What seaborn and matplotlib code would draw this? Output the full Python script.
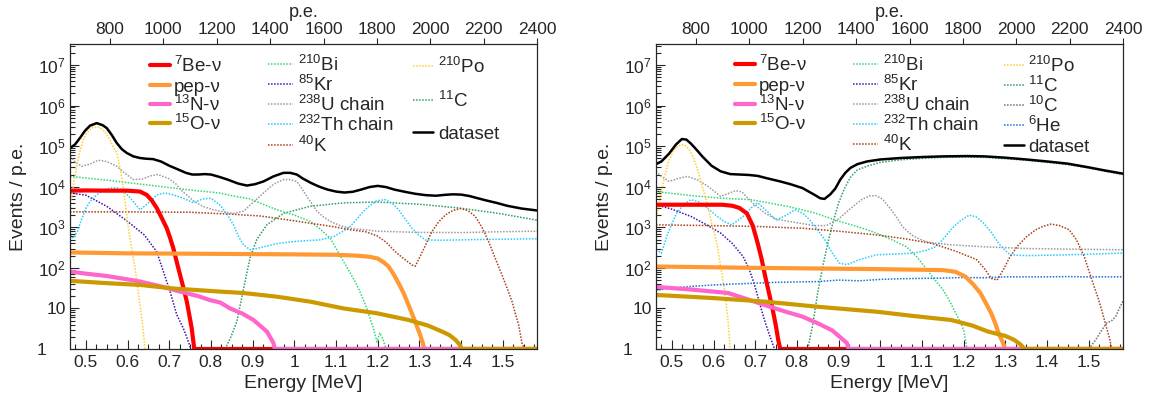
import numpy as np
import pandas as pd
import matplotlib
matplotlib.use("Agg")
import matplotlib.pyplot as plt
import seaborn as sns
from matplotlib.lines import Line2D
from matplotlib.ticker import FixedLocator, MultipleLocator, LogLocator, NullFormatter, FixedFormatter

# ---------------- data: left panel ----------------
L_data_E = [0.462, 0.474, 0.486, 0.498, 0.51, 0.526, 0.54, 0.55, 0.562, 0.574, 0.586, 0.598, 0.614, 0.63, 0.645, 0.661,
            0.68, 0.70, 0.72, 0.74, 0.755, 0.77, 0.785, 0.80, 0.82, 0.84, 0.865, 0.886, 0.905, 0.926, 0.95, 0.974,
            0.99, 1.006, 1.02, 1.04, 1.06, 1.08, 1.10, 1.12, 1.14, 1.16, 1.18, 1.20, 1.22, 1.24, 1.265, 1.29, 1.315,
            1.34, 1.36, 1.38, 1.40, 1.42, 1.44, 1.46, 1.485, 1.51, 1.545, 1.582]
L_data_v = [9.0e4, 1.1e5, 1.6e5, 2.4e5, 3.2e5, 3.7e5, 3.3e5, 2.8e5, 1.9e5, 1.2e5, 8.5e4, 6.8e4, 5.6e4, 5.1e4, 4.9e4, 4.8e4,
            4.2e4, 3.3e4, 2.7e4, 2.2e4, 2.0e4, 2.0e4, 2.05e4, 2.0e4, 1.75e4, 1.5e4, 1.2e4, 1.07e4, 1.15e4, 1.35e4, 1.8e4, 2.2e4,
            2.2e4, 2.0e4, 1.6e4, 1.24e4, 1.0e4, 8.5e3, 7.6e3, 7.2e3, 7.5e3, 8.5e3, 9.8e3, 1.05e4, 9.8e3, 8.5e3, 7.5e3, 6.7e3, 6.2e3,
            6.0e3, 6.3e3, 6.5e3, 6.4e3, 5.9e3, 5.2e3, 4.6e3, 4.0e3, 3.4e3, 2.9e3, 2.6e3]

L_po_E = [0.462, 0.466, 0.472, 0.478, 0.486, 0.494, 0.502, 0.51, 0.518, 0.526, 0.535, 0.545, 0.555, 0.565, 0.574, 0.582,
          0.59, 0.596, 0.602, 0.61, 0.618, 0.624, 0.63, 0.636, 0.642]
L_po_v = [4e3, 5.8e3, 1.4e4, 3.2e4, 7.5e4, 1.45e5, 2.1e5, 2.6e5, 2.95e5, 3.0e5, 2.8e5, 2.3e5, 1.6e5, 1.0e5, 6.8e4, 3e4,
          9e3, 3e3, 950, 300, 98, 35, 12, 4, 1]

L_bi_E = [0.462, 0.55, 0.65, 0.75, 0.822, 0.85, 0.894, 0.958, 1.0, 1.038, 1.062, 1.086, 1.102, 1.118, 1.134, 1.15, 1.162,
          1.174, 1.182, 1.19, 1.198, 1.205, 1.212, 1.22]
L_bi_v = [1.8e4, 1.45e4, 1.1e4, 8.3e3, 7.0e3, 6.0e3, 5.0e3, 2.7e3, 2.0e3, 1.4e3, 9e2, 540, 280, 144, 75, 38, 20,
          10, 5.5, 3.2, 1.5, 2.5, 1.8, 1]

L_c11_E = [0.834, 0.848, 0.862, 0.878, 0.894, 0.91, 0.934, 0.974, 1.038, 1.118, 1.198, 1.3, 1.394, 1.49, 1.582]
L_c11_v = [1, 2, 4.7, 30, 180, 500, 1.15e3, 2.2e3, 3.3e3, 4e3, 4.2e3, 3.7e3, 3.0e3, 2.2e3, 1.5e3]

L_kr_E = [0.462, 0.5, 0.55, 0.6, 0.64, 0.67, 0.686, 0.702, 0.718, 0.734, 0.746, 0.752]
L_kr_v = [7e3, 6.2e3, 3.3e3, 1.4e3, 650, 250, 81, 26, 7, 3.2, 1.5, 1]

L_u_E = [0.462, 0.475, 0.49, 0.51, 0.53, 0.55, 0.574, 0.595, 0.614, 0.635, 0.655, 0.673, 0.698, 0.715, 0.73, 0.758, 0.78,
         0.806, 0.83, 0.855, 0.878, 0.9, 0.926, 0.95, 0.974, 0.99, 1.006, 1.018, 1.03, 1.042, 1.054, 1.07, 1.086, 1.11,
         1.134, 1.2, 1.3, 1.4, 1.5, 1.582]
L_u_v = [5.6e4, 4.0e4, 3.2e4, 3.6e4, 4.5e4, 4.2e4, 3.2e4, 2.1e4, 1.5e4, 1.55e4, 1.85e4, 2.0e4, 1.6e4, 1.2e4, 8e3, 4.5e3, 3.3e3,
         2.7e3, 2.4e3, 2.2e3, 2.5e3, 4e3, 7e3, 1.15e4, 1.5e4, 1.5e4, 1.35e4, 9e3, 5.8e3, 3.8e3, 2.5e3, 1.8e3, 1.4e3, 1.1e3,
         950, 800, 750, 740, 780, 800]

L_th_E = [0.462, 0.47, 0.48, 0.49, 0.5, 0.51, 0.526, 0.545, 0.56, 0.575, 0.59, 0.605, 0.63, 0.654, 0.67, 0.69, 0.71, 0.734,
          0.758, 0.78, 0.80, 0.822, 0.84, 0.854, 0.866, 0.878, 0.894, 0.91, 0.926, 0.96, 1.0, 1.03, 1.062, 1.094, 1.115,
          1.134, 1.15, 1.166, 1.182, 1.198, 1.218, 1.235, 1.25, 1.266, 1.282, 1.298, 1.314, 1.35, 1.4, 1.45, 1.5, 1.582]
L_th_v = [650, 540, 800, 1.6e3, 2.9e3, 4.3e3, 6.3e3, 8.5e3, 9.3e3, 9.3e3, 8e3, 5.5e3, 2.7e3, 4.3e3, 6.3e3, 7e3, 6.3e3, 5.2e3,
          4e3, 5e3, 5.2e3, 3.5e3, 2e3, 1.15e3, 600, 370, 280, 300, 330, 400, 445, 470, 490, 590, 780,
          1.05e3, 1.6e3, 2.5e3, 3.5e3, 4.5e3, 4.8e3, 3.9e3, 2.7e3, 1.6e3, 950, 650, 490, 480, 490, 500, 510, 520]

L_k_E = [0.462, 0.6, 0.75, 0.85, 0.918, 0.98, 1.038, 1.09, 1.134, 1.17, 1.198, 1.22, 1.242, 1.262, 1.282, 1.29, 1.298,
         1.314, 1.33, 1.346, 1.362, 1.38, 1.398, 1.416, 1.434, 1.45, 1.466, 1.482, 1.498, 1.51, 1.522, 1.53, 1.538,
         1.546, 1.552]
L_k_v = [2.4e3, 2.4e3, 2.35e3, 2.1e3, 1.9e3, 1.55e3, 1.26e3, 1.05e3, 870, 780, 620, 430, 250, 170, 118, 110, 160,
         350, 790, 1.35e3, 2e3, 2.6e3, 2.9e3, 2.6e3, 1.85e3, 1e3, 445, 170, 67, 32, 15, 7.5, 3.9, 1.4, 1]

L_be7_E = [0.462, 0.5, 0.55, 0.6, 0.63, 0.646, 0.658, 0.67, 0.682, 0.694, 0.702, 0.71, 0.718, 0.726, 0.734, 0.742, 0.748,
           0.754, 0.76, 1.582]
L_be7_v = [8.0e3, 8.1e3, 8.0e3, 8.0e3, 7.6e3, 6.3e3, 4.6e3, 3e3, 1.7e3, 950, 550, 300, 140, 67, 32, 15, 7, 3.2, 1, 1]

L_pep_E = [0.462, 0.6, 0.8, 1.0, 1.1, 1.15, 1.18, 1.2, 1.215, 1.226, 1.238, 1.25, 1.262, 1.274, 1.282, 1.29, 1.296,
           1.302, 1.308, 1.312, 1.582]
L_pep_v = [240, 228, 222, 215, 210, 200, 188, 170, 135, 108, 70, 42, 24, 12, 7.5, 4.7, 3.2, 2.2, 1.4, 1, 1]

L_n13_E = [0.462, 0.5, 0.55, 0.6, 0.63, 0.68, 0.726, 0.77, 0.798, 0.822, 0.846, 0.875, 0.902, 0.92, 0.934, 0.944, 0.95,
           0.953, 1.582]
L_n13_v = [81, 72, 63, 52, 46, 35, 26, 20, 16, 14, 10, 7.5, 5.2, 3.6, 2.7, 1.8, 1.4, 1, 1]

L_o15_E = [0.462, 0.55, 0.63, 0.71, 0.822, 0.878, 0.958, 1.038, 1.118, 1.198, 1.274, 1.32, 1.354, 1.372, 1.386, 1.396,
           1.402, 1.582]
L_o15_v = [48, 42, 38, 31, 26, 24, 19.5, 14.7, 10, 7.6, 5.2, 3.8, 2.7, 2.2, 1.7, 1.3, 1, 1]

# ---------------- data: right panel ----------------
R_data_E = [0.462, 0.475, 0.493, 0.51, 0.524, 0.535, 0.546, 0.56, 0.573, 0.595, 0.617, 0.64, 0.662, 0.685, 0.706, 0.73,
            0.76, 0.785, 0.813, 0.84, 0.856, 0.866, 0.88, 0.892, 0.904, 0.916, 0.928, 0.945, 0.968, 1.0, 1.048, 1.1,
            1.15, 1.208, 1.25, 1.3, 1.35, 1.4, 1.45, 1.5, 1.54, 1.582]
R_data_v = [3.6e4, 4.2e4, 6.5e4, 1.1e5, 1.5e5, 1.45e5, 1.15e5, 8e4, 5.6e4, 3.3e4, 2.4e4, 2.05e4, 2e4, 1.95e4, 1.85e4, 1.6e4,
            1.35e4, 1.15e4, 9.3e3, 6.5e3, 5.2e3, 5e3, 6.5e3, 9e3, 1.5e4, 2.2e4, 2.9e4, 3.6e4, 4.2e4, 4.7e4, 5.1e4, 5.4e4,
            5.6e4, 5.7e4, 5.6e4, 5.2e4, 4.7e4, 4.2e4, 3.7e4, 3.0e4, 2.5e4, 2.1e4]

R_po_E = [0.462, 0.471, 0.482, 0.493, 0.505, 0.515, 0.524, 0.535, 0.546, 0.556, 0.564, 0.573, 0.582, 0.595, 0.608, 0.617,
          0.626, 0.634, 0.64]
R_po_v = [1.5e3, 4.8e3, 1.7e4, 4.5e4, 8e4, 1.0e5, 1.1e5, 1.0e5, 7e4, 4e4, 2.2e4, 1e4, 4.8e3, 1.3e3, 400, 110, 29, 6, 1]

R_bi_E = [0.462, 0.55, 0.62, 0.689, 0.777, 0.84, 0.902, 0.95, 0.991, 1.03, 1.062, 1.085, 1.106, 1.128, 1.15, 1.165, 1.177,
          1.19, 1.2, 1.208]
R_bi_v = [7.6e3, 6e3, 5.2e3, 4.8e3, 3.3e3, 2.3e3, 1.4e3, 1e3, 720, 480, 335, 200, 108, 55, 29, 16, 9.2, 5, 2.9, 1]

R_c11_E = [0.826, 0.838, 0.85, 0.862, 0.875, 0.888, 0.9, 0.914, 0.928, 0.945, 0.968, 1.0, 1.048, 1.1, 1.15, 1.208, 1.25,
           1.3, 1.35, 1.4, 1.45, 1.5, 1.54, 1.582]
R_c11_v = [1, 4, 25, 110, 450, 1.5e3, 4e3, 9e3, 1.7e4, 2.6e4, 3.2e4, 4.0e4, 4.6e4, 5.0e4, 5.3e4, 5.4e4, 5.3e4, 4.9e4,
           4.5e4, 4.0e4, 3.5e4, 2.9e4, 2.4e4, 2.0e4]

R_kr_E = [0.462, 0.5, 0.546, 0.58, 0.617, 0.645, 0.671, 0.685, 0.697, 0.706, 0.715, 0.724, 0.733, 0.74, 0.746]
R_kr_v = [3.6e3, 2.8e3, 1.85e3, 1.2e3, 720, 400, 190, 95, 42, 20, 9.2, 4.5, 2.4, 1.5, 1]

R_u_E = [0.462, 0.475, 0.493, 0.515, 0.537, 0.56, 0.582, 0.6, 0.617, 0.635, 0.653, 0.668, 0.68, 0.7, 0.724, 0.75, 0.78,
         0.81, 0.84, 0.87, 0.9, 0.93, 0.955, 0.975, 0.99, 1.005, 1.026, 1.04, 1.053, 1.066, 1.08, 1.1, 1.12, 1.17, 1.25,
         1.35, 1.45, 1.582]
R_u_v = [2.4e4, 1.8e4, 1.35e4, 1.6e4, 1.8e4, 1.5e4, 1.1e4, 8e3, 5.8e3, 6.8e3, 8e3, 7.5e3, 5.5e3, 3.5e3, 2.2e3, 1.6e3, 1.4e3,
         1.25e3, 1.1e3, 1.1e3, 1.6e3, 3e3, 4.8e3, 6e3, 6e3, 5e3, 2.7e3, 1.7e3, 1.05e3, 780, 600, 480, 420, 370, 330,
         300, 290, 280]

R_th_E = [0.462, 0.475, 0.49, 0.511, 0.53, 0.546, 0.565, 0.585, 0.605, 0.625, 0.644, 0.671, 0.69, 0.706, 0.728, 0.75, 0.775,
          0.795, 0.815, 0.831, 0.85, 0.867, 0.885, 0.902, 0.92, 0.95, 0.991, 1.04, 1.08, 1.11, 1.133, 1.15, 1.169, 1.19,
          1.213, 1.23, 1.248, 1.266, 1.284, 1.298, 1.311, 1.35, 1.45, 1.582]
R_th_v = [280, 230, 700, 2.2e3, 3.8e3, 4.8e3, 4.2e3, 3e3, 2e3, 1.4e3, 1.15e3, 1.85e3, 3e3, 4e3, 2.5e3, 1.5e3, 2e3,
          2.7e3, 2.2e3, 1.5e3, 850, 490, 230, 130, 120, 160, 210, 220, 230, 270, 335, 500, 870, 1.4e3,
          2e3, 1.8e3, 1.26e3, 750, 400, 280, 210, 200, 210, 230]

R_k_E = [0.462, 0.6, 0.7, 0.813, 0.9, 0.991, 1.06, 1.124, 1.18, 1.231, 1.25, 1.266, 1.28, 1.295, 1.31, 1.328, 1.35, 1.373,
         1.39, 1.409, 1.43, 1.453, 1.47, 1.489, 1.505, 1.524, 1.534, 1.542, 1.55, 1.555]
R_k_v = [1.15e3, 1.1e3, 1.05e3, 950, 800, 650, 520, 400, 260, 160, 95, 55, 50, 90, 180, 335, 580, 870,
         1.05e3, 1.2e3, 1.1e3, 870, 500, 190, 60, 16, 7, 3.5, 1.8, 1]

R_he6_E = [0.462, 0.5, 0.55, 0.6, 0.65, 0.7, 0.75, 0.8, 0.85, 0.9, 0.95, 1.0, 1.05, 1.1, 1.15, 1.2, 1.25, 1.3, 1.35, 1.4,
           1.45, 1.5, 1.582]
R_he6_v = [28, 32, 35, 38, 40, 42, 44, 45, 46, 50, 48, 52, 54, 55, 56, 58, 57, 60, 60, 60, 61, 60, 60]

R_c10_E = [1.50, 1.515, 1.53, 1.542, 1.555, 1.565, 1.575, 1.582]
R_c10_v = [1, 1.6, 2.8, 4.3, 5, 6.5, 11, 15]

R_be7_E = [0.462, 0.55, 0.62, 0.645, 0.662, 0.68, 0.694, 0.706, 0.715, 0.724, 0.733, 0.742, 0.75, 0.755, 0.76, 1.582]
R_be7_v = [3.6e3, 3.6e3, 3.6e3, 3.4e3, 3e3, 2.2e3, 1.1e3, 400, 170, 61, 24, 9.2, 3.5, 1.7, 1, 1]

R_pep_E = [0.462, 0.7, 1.0, 1.15, 1.18, 1.204, 1.222, 1.24, 1.254, 1.266, 1.276, 1.284, 1.292, 1.3, 1.582]
R_pep_v = [108, 100, 93, 88, 80, 61, 40, 24, 13, 7.6, 4.2, 2.4, 1.6, 1, 1]

R_n13_E = [0.462, 0.55, 0.635, 0.68, 0.724, 0.77, 0.813, 0.85, 0.884, 0.905, 0.92, 0.924, 1.582]
R_n13_v = [34, 29, 24, 17, 12, 8.5, 6.3, 4.3, 2.9, 1.9, 1.4, 1, 1]

R_o15_E = [0.462, 0.6, 0.724, 0.85, 0.991, 1.08, 1.169, 1.22, 1.258, 1.3, 1.32, 1.336, 1.346, 1.582]
R_o15_v = [21.5, 18, 14.7, 11, 8.3, 6.5, 5.2, 3.8, 2.7, 2.1, 1.7, 1.3, 1, 1]

# axis ticks / labels
x_ticks = [0.5, 0.6, 0.7, 0.8, 0.9, 1.0, 1.1, 1.2, 1.3, 1.4, 1.5]
x_tick_labels = ["0.5", "0.6", "0.7", "0.8", "0.9", "1", "1.1", "1.2", "1.3", "1.4", "1.5"]
y_ticks = [1, 10, 1e2, 1e3, 1e4, 1e5, 1e6, 1e7]
y_tick_labels = ["1    ", "10", "$10^{2}$", "$10^{3}$", "$10^{4}$", "$10^{5}$", "$10^{6}$", "$10^{7}$"]
pe_ticks = [800, 1000, 1200, 1400, 1600, 1800, 2000, 2200, 2400]
pe_tick_labels = ["800", "1000", "1200", "1400", "1600", "1800", "2000", "2200", "2400"]

# ---------------- style ----------------
sns.set_style("white")
plt.rcParams['font.family'] = ['Liberation Sans', 'DejaVu Sans']
plt.rcParams['mathtext.fontset'] = 'custom'
plt.rcParams['mathtext.rm'] = 'Liberation Sans'
plt.rcParams['mathtext.it'] = 'Liberation Sans:italic'
plt.rcParams['mathtext.bf'] = 'Liberation Sans:bold'
plt.rcParams['mathtext.default'] = 'regular'

COL = {
    "be7": "#ff0000", "pep": "#ff9933", "n13": "#ff66cc", "o15": "#cc9900",
    "bi": "#2fd873", "kr": "#4010b0", "u": "#9a9a9a", "th": "#22ccff", "k": "#a8401a",
    "po": "#ffcc33", "c11": "#2e9e5e", "c10": "#707070", "he6": "#1a70d8", "data": "#000000",
}
LAB = {
    "be7": "$^{7}$Be-ν", "pep": "pep-ν", "n13": "$^{13}$N-ν", "o15": "$^{15}$O-ν",
    "bi": "$^{210}$Bi", "kr": "$^{85}$Kr", "u": "$^{238}$U chain", "th": "$^{232}$Th chain", "k": "$^{40}$K",
    "po": "$^{210}$Po", "c11": "$^{11}$C", "c10": "$^{10}$C", "he6": "$^{6}$He", "data": "dataset",
}
THICK = {"be7", "pep", "n13", "o15"}


def style_of(key):
    if key in THICK:
        return dict(linewidth=3.0, linestyle="-")
    if key == "data":
        return dict(linewidth=1.8, linestyle="-")
    return dict(linewidth=1.1, linestyle=(0, (1, 1)))


W, H = 1153, 401
fig = plt.figure(figsize=(W / 100, H / 100), dpi=100)

panels = [
    dict(x0=70, curves=[("c11", L_c11_E, L_c11_v), ("bi", L_bi_E, L_bi_v), ("kr", L_kr_E, L_kr_v), ("u", L_u_E, L_u_v),
                        ("th", L_th_E, L_th_v), ("k", L_k_E, L_k_v), ("po", L_po_E, L_po_v),
                        ("be7", L_be7_E, L_be7_v), ("pep", L_pep_E, L_pep_v), ("n13", L_n13_E, L_n13_v),
                        ("o15", L_o15_E, L_o15_v), ("data", L_data_E, L_data_v)],
         legend=[(150, 170, 174, [65, 85, 104, 123], ["be7", "pep", "n13", "o15"]),
                 (268, 293, 298, [64, 84, 104, 124, 145], ["bi", "kr", "u", "th", "k"]),
                 (413, 433, 438, [66, 100, 132], ["po", "c11", "data"])]),
    dict(x0=656, curves=[("c11", R_c11_E, R_c11_v), ("bi", R_bi_E, R_bi_v), ("kr", R_kr_E, R_kr_v), ("u", R_u_E, R_u_v),
                         ("th", R_th_E, R_th_v), ("k", R_k_E, R_k_v), ("po", R_po_E, R_po_v),
                         ("c10", R_c10_E, R_c10_v), ("he6", R_he6_E, R_he6_v),
                         ("be7", R_be7_E, R_be7_v), ("pep", R_pep_E, R_pep_v), ("n13", R_n13_E, R_n13_v),
                         ("o15", R_o15_E, R_o15_v), ("data", R_data_E, R_data_v)],
         legend=[(735, 755, 759, [64, 84, 104, 123], ["be7", "pep", "n13", "o15"]),
                 (853, 878, 883, [64, 84, 104, 124, 144], ["bi", "kr", "u", "th", "k"]),
                 (1004, 1024, 1028, [65, 85, 105, 125, 145], ["po", "c11", "c10", "he6", "data"])]),
]

AX_TOP, AX_BOT, AX_W = 44, 349, 467
FS_TICK = 12.5
FS_LEG = 13.5
FS_TITLE = 14

for p in panels:
    ax = fig.add_axes([p["x0"] / W, 1 - AX_BOT / H, AX_W / W, (AX_BOT - AX_TOP) / H])
    for key, E, v in p["curves"]:
        df = pd.DataFrame({"E": E, "v": v})
        sns.lineplot(data=df, x="E", y="v", ax=ax, color=COL[key], estimator=None, sort=False,
                     legend=False, **style_of(key))
    ax.set_yscale("log")
    ax.set_xlim(0.462, 1.582)
    ax.set_ylim(1, 3.3e7)
    ax.xaxis.set_major_locator(FixedLocator(x_ticks))
    ax.xaxis.set_major_formatter(FixedFormatter(x_tick_labels))
    ax.xaxis.set_minor_locator(MultipleLocator(0.025))
    ax.yaxis.set_major_locator(FixedLocator(y_ticks))
    ax.yaxis.set_major_formatter(FixedFormatter(y_tick_labels))
    ax.yaxis.set_minor_locator(LogLocator(base=10, subs=np.arange(2, 10)))
    ax.yaxis.set_minor_formatter(NullFormatter())
    ax.tick_params(axis="x", which="major", direction="in", length=6.5, width=0.8, pad=4, labelsize=FS_TICK,
                   top=False, bottom=True)
    ax.tick_params(axis="x", which="minor", direction="in", length=3.5, width=0.8, top=False, bottom=True)
    ax.tick_params(axis="y", which="major", direction="in", length=6.5, width=0.8, pad=3, labelsize=FS_TICK,
                   left=True, right=False)
    ax.tick_params(axis="y", which="minor", direction="in", length=3.5, width=0.8, left=True, right=False)
    for s in ax.spines.values():
        s.set_linewidth(0.8)
        s.set_color("black")
    ax.set_xlabel("Energy [MeV]", fontsize=FS_TITLE)
    ax.set_ylabel("Events / p.e.", fontsize=FS_TITLE)
    ax.xaxis.set_label_coords(0.5, -0.086)
    ax.yaxis.set_label_coords(-0.092, 0.5)

    ax2 = ax.twiny()
    ax2.set_xlim(650, 2400)
    ax2.xaxis.set_major_locator(FixedLocator(pe_ticks))
    ax2.xaxis.set_major_formatter(FixedFormatter(pe_tick_labels))
    ax2.xaxis.set_minor_locator(FixedLocator([]))
    ax2.tick_params(axis="x", which="major", direction="out", length=4, width=0.8, pad=1, labelsize=FS_TICK)
    ax2.set_xlabel("p.e.", fontsize=13)
    ax2.xaxis.set_label_coords(0.5, 1.09)
    for s in ax2.spines.values():
        s.set_linewidth(0.8)

    # legends (three column groups, no frame)
    for hx0, hx1, tx, rows, keys in p["legend"]:
        for yy, key in zip(rows, keys):
            st = style_of(key)
            fig.add_artist(Line2D([hx0 / W, hx1 / W], [1 - yy / H, 1 - yy / H], transform=fig.transFigure,
                                  color=COL[key], **st))
            fig.text(tx / W, 1 - (yy + 7) / H, LAB[key], fontsize=FS_LEG, va="baseline", ha="left")

fig.savefig("out.png", dpi=100)
